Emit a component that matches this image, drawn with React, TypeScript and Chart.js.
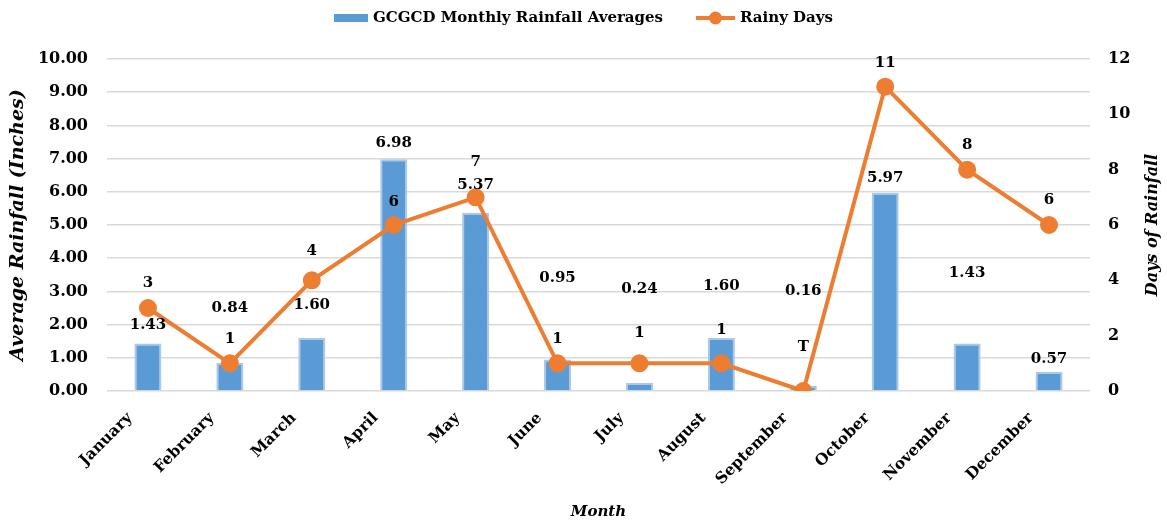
import React, { useEffect, useRef } from "react";
import { Chart, registerables } from "chart.js";

Chart.register(...registerables);

const months = ["January", "February", "March", "April", "May", "June", "July", "August", "September", "October", "November", "December"];
const rainfall = [1.43, 0.84, 1.6, 6.98, 5.37, 0.95, 0.24, 1.6, 0.16, 5.97, 1.43, 0.57];
const rainfallLabels = ["1.43", "0.84", "1.60", "6.98", "5.37", "0.95", "0.24", "1.60", "0.16", "5.97", "1.43", "0.57"];
const rainyDays = [3, 1, 4, 6, 7, 1, 1, 1, 0, 11, 8, 6];
const rainyDayLabels = ["3", "1", "4", "6", "7", "1", "1", "1", "T", "11", "8", "6"];
// label lift above the mark, in pixels (labels were hand-placed in the original)
const barLabelLift = [18, 55, 33, 16, 28, 81, 94, 52, 95, 15, 70, 13];
const lineLabelLift = [25, 24, 29, 23, 35, 24, 30, 33, 44, 24, 25, 25];

const BLUE = "#5b9bd5";
const BLUE_EDGE = "#a9c8ea";
const ORANGE = "#ed7d31";
const FONT = "'DejaVu Serif', serif";

const labelPlugin = {
  id: "customLabels",
  afterDatasetsDraw(chart: any) {
    const ctx = chart.ctx;
    ctx.save();
    ctx.fillStyle = "#000";
    ctx.textAlign = "center";
    ctx.textBaseline = "middle";
    ctx.font = `bold 15px ${FONT}`;
    const barMeta = chart.getDatasetMeta(0);
    const lineMeta = chart.getDatasetMeta(1);
    barMeta.data.forEach((el: any, i: number) => {
      ctx.fillText(rainfallLabels[i], el.x, el.y - barLabelLift[i]);
    });
    lineMeta.data.forEach((el: any, i: number) => {
      ctx.fillText(rainyDayLabels[i], el.x, el.y - lineLabelLift[i]);
    });
    ctx.restore();
  },
  afterDraw(chart: any) {
    const ctx = chart.ctx;
    const ca = chart.chartArea;
    ctx.save();
    // right axis title, reading bottom-to-top
    ctx.font = `italic bold 16px ${FONT}`;
    ctx.fillStyle = "#000";
    ctx.textAlign = "center";
    ctx.textBaseline = "middle";
    ctx.translate(chart.width - 14, (ca.top + ca.bottom) / 2);
    ctx.rotate(-Math.PI / 2);
    ctx.fillText("Days of Rainfall", 0, 0);
    ctx.restore();

    // legend
    ctx.save();
    ctx.font = `bold 15px ${FONT}`;
    ctx.textBaseline = "middle";
    ctx.textAlign = "left";
    ctx.fillStyle = "#000";
    const t1 = chart.data.datasets[0].label;
    const t2 = chart.data.datasets[1].label;
    const w1 = ctx.measureText(t1).width;
    const w2 = ctx.measureText(t2).width;
    const box = 34, gap = 5, itemGap = 33, lineSw = 39;
    const total = box + gap + w1 + itemGap + lineSw + gap + w2;
    let x = chart.width / 2 - total / 2;
    const y = 18;
    ctx.fillStyle = BLUE;
    ctx.fillRect(x, y - 4, box, 8);
    ctx.fillStyle = "#000";
    ctx.fillText(t1, x + box + gap, y);
    x += box + gap + w1 + itemGap;
    ctx.strokeStyle = ORANGE;
    ctx.lineWidth = 4;
    ctx.beginPath();
    ctx.moveTo(x, y);
    ctx.lineTo(x + lineSw, y);
    ctx.stroke();
    ctx.fillStyle = ORANGE;
    ctx.beginPath();
    ctx.arc(x + lineSw / 2, y, 6.5, 0, Math.PI * 2);
    ctx.fill();
    ctx.fillStyle = "#000";
    ctx.fillText(t2, x + lineSw + gap, y);
    ctx.restore();
  },
};

export default function App() {
  const ref = useRef<HTMLCanvasElement | null>(null);
  useEffect(() => {
    if (!ref.current) return;
    const chart = new Chart(ref.current, {
      type: "bar",
      data: {
        labels: months,
        datasets: [
          {
            type: "bar",
            label: "GCGCD Monthly Rainfall Averages",
            data: rainfall,
            backgroundColor: BLUE,
            borderColor: BLUE_EDGE,
            borderWidth: 2,
            yAxisID: "y",
            barPercentage: 0.33,
            categoryPercentage: 1,
            order: 2,
          },
          {
            type: "line",
            label: "Rainy Days",
            data: rainyDays,
            borderColor: ORANGE,
            backgroundColor: ORANGE,
            borderWidth: 4,
            pointRadius: 7,
            pointBackgroundColor: ORANGE,
            pointBorderColor: ORANGE,
            yAxisID: "y1",
            tension: 0,
            order: 1,
          } as any,
        ],
      },
      options: {
        animation: false,
        responsive: false,
        maintainAspectRatio: false,
        layout: { padding: { top: 59, left: 0, right: 0, bottom: 0 } },
        plugins: {
          legend: { display: false },
          tooltip: { enabled: false },
        },
        scales: {
          x: {
            offset: true,
            grid: { display: false, drawTicks: false },
            border: { display: false },
            ticks: {
              color: "#000",
              font: { family: FONT, weight: "bold", size: 15.5 },
              maxRotation: 45,
              minRotation: 45,
              padding: 18,
              labelOffset: -18,
              autoSkip: false,
            },
            title: {
              display: true,
              text: "Month",
              color: "#000",
              font: { family: FONT, weight: "bold", style: "italic", size: 15 },
              padding: { top: 0, bottom: 2 },
            },
            afterFit(scale: any) {
              scale.height = 132;
            },
          },
          y: {
            position: "left",
            min: 0,
            max: 10,
            grid: { color: "#d9d9d9", lineWidth: 1.5, drawTicks: false },
            border: { display: false },
            ticks: {
              stepSize: 1,
              color: "#000",
              padding: 19,
              font: { family: FONT, weight: "bold", size: 16 },
              callback: (v: any) => Number(v).toFixed(2),
            },
            title: {
              display: true,
              text: "Average Rainfall (Inches)",
              color: "#000",
              font: { family: FONT, weight: "bold", style: "italic", size: 19 },
              padding: { top: 7, bottom: 0 },
            },
            afterFit(scale: any) {
              scale.width = 107;
            },
          },
          y1: {
            position: "right",
            min: 0,
            max: 12,
            grid: { display: false, drawTicks: false },
            border: { display: false },
            ticks: {
              stepSize: 2,
              color: "#000",
              padding: 18,
              font: { family: FONT, weight: "bold", size: 16 },
            },
            afterFit(scale: any) {
              scale.width = 77;
            },
          },
        },
      } as any,
      plugins: [labelPlugin],
    });
    return () => chart.destroy();
  }, []);
  return (
    <div style={{ position: "absolute", left: 0, top: 0, width: 1167, height: 523 }}>
      <canvas ref={ref} width={1167} height={523} style={{ width: 1167, height: 523, display: "block" }} />
    </div>
  );
}
